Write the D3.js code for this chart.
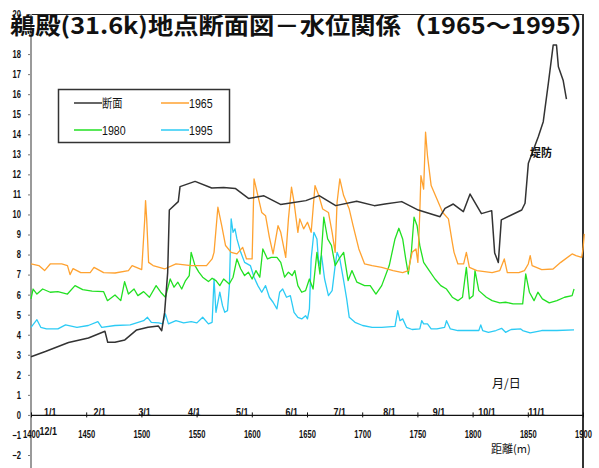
<!DOCTYPE html>
<html lang="ja">
<head>
<meta charset="utf-8">
<title>鵜殿(31.6k)地点断面図－水位関係</title>
<script src="https://cdn.jsdelivr.net/npm/d3@7"></script>
<style>
  body { margin: 0; background: #fff; }
  svg { display: block; }
  .tick text, .num { font-family: "Liberation Sans", Arial, sans-serif; font-weight: bold; fill: #111; }
  .tick text { font-size: 10.5px; }
  .jp { font-family: "Noto Sans CJK JP", sans-serif; fill: #111; }
</style>
</head>
<body>
<div id="chart"></div>
<script>
// 断面 (distance m, elevation)
var section = [[1400,2.9],[1413,3.16],[1434,3.61],[1452,3.84],[1467,4.17],[1469.5,3.62],[1476,3.62],[1485,3.74],
  [1495.7,4.24],[1506,4.37],[1515.3,4.44],[1518.4,4.2],[1521,5.1],[1523.8,7.1],[1525.3,10.22],[1533.4,10.64],
  [1535,11.39],[1548.6,11.65],[1563.7,11.32],[1574.5,11.35],[1585,11.3],[1597,10.8],[1611,10.93],[1626,10.5],
  [1635,10.57],[1649,10.69],[1661,10.94],[1676,10.44],[1695,10.66],[1711,10.44],[1720.6,10.52],[1735.8,10.64],
  [1750.8,10.22],[1770.5,9.89],[1775,10.3],[1782.5,10.52],[1791.6,10.14],[1797.7,11.02],[1808,10.04],[1817.3,10.19],
  [1820,8.08],[1823.3,7.6],[1826,9.73],[1844.5,10.22],[1847.5,10.56],[1850.5,12.55],[1859.5,13.88],[1864,14.63],
  [1868.6,16.54],[1873,18.45],[1876,18.45],[1877.7,17.37],[1882,16.7],[1885,15.75]];

// water level (day from 1/1, level)
var wl1965 = [[-12,7.53],[-7.1,7.45],[-3.5,7.2],[0,7.53],[7.2,7.53],[10.8,7.45],[12.4,7.0],[14.3,7.3],[19.1,7.1],
  [25,7.1],[27.4,7.36],[33.4,7.1],[40.5,7.08],[48.9,7.2],[51.2,7.45],[57.2,7.25],[59.1,9.78],[59.6,10.69],[60.3,9.78],
  [61.5,7.61],[64.3,7.45],[71.5,7.28],[78.6,7.53],[88.1,7.45],[97.7,7.45],[101.2,7.78],[102.4,8.11],[104.8,10.36],
  [107.2,9.44],[109.6,8.45],[113.1,8.11],[116.7,8.03],[120.3,8.36],[122.7,7.78],[126.2,7.78],[127.4,11.77],
  [129.8,10.94],[132.2,10.1],[134.6,9.94],[137,8.86],[139.3,8.03],[142.4,9.44],[144.1,9.11],[147.2,7.86],[148.9,9.78],
  [150.8,11.36],[152.4,10.61],[154.8,9.11],[156,9.78],[158.4,9.28],[160.8,9.61],[163.1,9.11],[165.5,11.44],
  [167.9,10.94],[170.3,10.27],[173.9,10.1],[176.2,9.11],[178.1,8.11],[179.3,10.61],[181,11.77],[183.4,10.94],
  [186.9,10.27],[189.3,9.44],[192.9,8.28],[196.5,7.53],[201.2,7.45],[207.2,7.36],[214.3,7.2],[220.3,7.1],[223.8,7.2],
  [226.2,8.11],[228.6,8.28],[229.8,7.61],[231,10.1],[231.7,11.94],[233.4,11.27],[234.6,14.1],[235.8,12.93],
  [238.1,11.44],[241.7,10.77],[245.3,10.1],[248.9,9.78],[251.3,8.61],[252.4,8.11],[254.8,7.53],[258.4,7.53],
  [260.1,8.11],[262,7.36],[266.7,7.2],[276.2,7.1],[281,7.2],[283.8,7.78],[285.7,7.1],[292.9,7.1],[296.4,7.2],
  [298.8,7.53],[300,7.95],[301.2,7.45],[307.2,7.25],[314.3,7.28],[319.1,7.61],[326.2,8.03],[328.6,7.95],[332.2,7.86],
  [333,8.28],[333.8,9.03]];

var wl1980 = [[-12,5.79],[-10.7,6.28],[-8.3,6.03],[-4.7,6.28],[0,6.12],[4.8,6.15],[10.8,6.03],[15.5,6.45],[20.3,6.25],
  [26.2,6.18],[33.4,6.15],[35.8,5.7],[40.5,5.98],[44.1,5.7],[46.5,6.65],[48.9,6.03],[52.4,6.28],[54.8,5.95],[58.4,6.15],
  [62,5.87],[66.2,6.45],[69.1,6.12],[72,5.87],[75,6.78],[77.4,6.37],[79.8,6.62],[82.2,6.28],[84.6,6.7],[86.9,6.95],
  [88.1,8.11],[90.5,7.45],[92.9,7.12],[95.3,6.87],[98.9,6.65],[101.2,6.82],[103.6,6.7],[106,6.45],[108.4,6.78],
  [111.9,6.53],[114.3,6.87],[116.7,7.78],[119.1,7.28],[121.5,6.95],[123.9,7.12],[126.2,6.78],[128.6,7.2],[131,6.87],
  [132.9,8.28],[135.8,7.78],[138.2,7.86],[141.7,7.86],[144.1,7.61],[146.5,6.87],[148.9,7.12],[151.2,6.95],[152.9,7.2],
  [154.8,6.45],[157.2,6.12],[159.6,6.2],[162,6.78],[164.3,6.28],[166.7,8.11],[168.6,7.03],[171,9.86],[173.4,8.78],
  [175.8,8.45],[178.1,7.45],[180.5,7.78],[183.4,8.11],[186.2,6.7],[188.6,7.2],[191.7,6.62],[196.5,6.45],[200,6.45],
  [203.6,6.03],[207.2,6.45],[211.9,7.45],[215.5,8.78],[217.9,9.31],[220.3,8.78],[222.2,7.78],[223.8,7.03],[225.7,8.11],
  [227.4,9.86],[229.3,9.44],[231,8.45],[233.4,7.61],[236.9,7.2],[240.5,6.78],[244.1,6.45],[247.7,6.28],[251.3,5.87],
  [254.8,5.7],[257.7,5.87],[260.1,7.36],[262,5.79],[264.3,5.95],[265.5,7.2],[267.9,6.2],[272.6,5.87],[276.2,5.7],
  [281,5.59],[284.6,5.62],[289.3,5.54],[295.3,5.54],[297.2,7.03],[299.5,6.12],[302.4,5.7],[304.8,6.12],[307.6,5.79],
  [311.9,5.59],[316.7,5.7],[321.5,5.87],[326.2,5.95],[327.4,6.28]];

var wl1995 = [[-12,4.37],[-8.3,4.75],[-5.9,4.37],[-2.3,4.29],[4.8,4.29],[9.6,4.49],[16.7,4.37],[23.8,4.46],[29.8,4.65],
  [32.2,4.37],[40.5,4.46],[50,4.49],[58.4,4.7],[60.8,4.87],[63.2,4.62],[67.9,4.59],[70.3,4.54],[72,5.04],[73.9,4.54],
  [78.6,4.7],[83.4,4.59],[88.1,4.65],[91.7,4.59],[95.3,4.87],[98.9,4.54],[101.2,4.62],[102.4,6.78],[103.6,5.12],
  [106,6.12],[107.7,5.45],[109.1,5.12],[110.8,5.2],[112,6.45],[113.1,9.78],[114.3,9.11],[115.5,9.28],[116.7,8.78],
  [119.1,8.11],[121.5,7.61],[125.1,7.45],[127.4,6.87],[129.8,6.45],[132.2,6.12],[134.6,6.45],[137,5.87],[139.3,5.62],
  [141.7,5.29],[143.4,6.12],[145.3,6.28],[147.7,5.87],[150.1,5.95],[152.4,5.12],[154.8,4.87],[157.2,4.79],[159.6,4.95],
  [160.8,4.79],[162,5.29],[163.1,7.78],[164.8,9.11],[166.7,8.78],[167.9,7.45],[169.6,7.95],[171.5,6.78],[173.9,5.95],
  [176.2,6.2],[178.1,7.45],[179.3,8.11],[181,7.78],[183.4,6.7],[185.3,5.79],[186.9,4.87],[190.5,4.62],[195.3,4.46],
  [201.2,4.37],[207.2,4.37],[215.5,4.42],[217.2,5.2],[218.6,4.7],[220.3,4.79],[222.7,4.37],[226.2,4.26],[231,4.29],
  [232.2,4.7],[233.4,4.54],[235.8,4.54],[238.1,4.29],[241.7,4.29],[246.5,4.37],[247.7,4.7],[250.1,4.29],[254.8,4.21],
  [262,4.21],[267.9,4.21],[269.1,4.49],[270.3,4.21],[273.9,4.12],[278.6,4.21],[282.1,4.32],[284.6,4.12],[288.1,4.26],
  [294.1,4.29],[295.3,4.21],[300,4.09],[307.2,4.21],[316.7,4.21],[327.4,4.24]];

var monthDays = [0, 31, 59, 90, 120, 151, 181, 212, 243, 273, 304];
var monthLabels = ["1/1", "2/1", "3/1", "4/1", "5/1", "6/1", "7/1", "8/1", "9/1", "10/1", "11/1"];
var distTicks = d3.range(1400, 1901, 50);
var levelTicks = d3.range(-2, 21, 1);

var W = 599, H = 468;
var plotL = 31, plotR = 583, plotT = 14, plotB = 455;

var svg = d3.select("#chart").append("svg").attr("width", W).attr("height", H);

var x = d3.scaleLinear().domain([1400, 1900]).range([plotL, plotR]);
var t = d3.scaleLinear().domain([-12, 333]).range([plotL, plotR]);
var y = d3.scaleLinear().domain([-2, 20]).range([plotB, plotT]);

// frame
svg.append("line").attr("x1", plotL).attr("x2", plotR).attr("y1", plotT + 0.5).attr("y2", plotT + 0.5)
  .attr("stroke", "#222").attr("stroke-width", 1);
svg.append("line").attr("x1", plotR).attr("x2", plotR).attr("y1", plotT).attr("y2", H)
  .attr("stroke", "#333").attr("stroke-width", 2);

// y axis
var gy = svg.append("g").attr("transform", "translate(" + plotL + ",0)")
  .call(d3.axisLeft(y).tickValues(levelTicks).tickSize(3).tickPadding(11).tickFormat(d3.format("d")));
gy.select(".domain").remove();
gy.selectAll(".tick line").attr("stroke", "#777");
gy.append("line").attr("y1", plotT).attr("y2", H).attr("stroke", "#9a9a9a").attr("stroke-width", 2);
gy.selectAll(".tick text")
  .attr("transform", "scale(0.72,1)")
  .text(function (d) { return d < 0 ? "\u2212" + Math.abs(d) : d; });

// x axis (distance) on level 0
var gx = svg.append("g").attr("transform", "translate(0," + y(0) + ")")
  .call(d3.axisBottom(x).tickValues(distTicks).tickSize(0).tickPadding(16).tickFormat(d3.format("d")));
gx.select(".domain").attr("stroke", "#111").attr("stroke-width", 1.2);
gx.selectAll(".tick text").attr("transform", "scale(0.72,1)");
gx.selectAll(".tick").append("line").attr("y1", -2.5).attr("y2", 2.5).attr("stroke", "#111");

// month labels
var gm = svg.append("g");
gm.selectAll("text").data(monthDays).enter().append("text")
  .attr("class", "num")
  .attr("transform", function (d) { return "translate(" + t(d) + "," + (y(0) + 1) + ") scale(0.85,1)"; })
  .attr("text-anchor", "middle")
  .style("font-size", "10.5px")
  .text(function (d, i) { return monthLabels[i]; });
gm.append("text").attr("class", "num")
  .attr("transform", "translate(" + (t(0) - 2) + "," + (y(0) + 20) + ") scale(0.85,1)")
  .attr("text-anchor", "middle")
  .style("font-size", "10.5px")
  .text("12/1");

// series
var lineD = d3.line().x(function (d) { return x(d[0]); }).y(function (d) { return y(d[1]); });
var lineT = d3.line().x(function (d) { return t(d[0]); }).y(function (d) { return y(d[1]); });

var series = [
  { data: wl1995, color: "#2ccbf5", gen: lineT },
  { data: wl1980, color: "#22e022", gen: lineT },
  { data: wl1965, color: "#ffa230", gen: lineT },
  { data: section, color: "#333333", gen: lineD }
];
svg.append("g").selectAll("path").data(series).enter().append("path")
  .attr("fill", "none")
  .attr("stroke", function (s) { return s.color; })
  .attr("stroke-width", function (s) { return s.data === section ? 1.5 : 1.3; })
  .attr("stroke-linejoin", "round")
  .attr("d", function (s) { return s.gen(s.data); });

// annotations
svg.append("text").attr("class", "jp").attr("x", 541).attr("y", 157).attr("text-anchor", "middle")
  .style("font-size", "11px").style("font-weight", "bold").text("堤防");
svg.append("text").attr("class", "jp").attr("x", 492).attr("y", 388)
  .style("font-size", "12px").text("月/日");
svg.append("text").attr("class", "jp").attr("x", 491).attr("y", 453)
  .style("font-size", "11px").text("距離(m)");

// legend
var lg = svg.append("g");
lg.append("rect").attr("x", 58.5).attr("y", 89.5).attr("width", 171).attr("height", 53)
  .attr("fill", "#fff").attr("stroke", "#333").attr("stroke-width", 1.5);
var legendItems = [
  { label: "断面", color: "#333333", lx: 74, ly: 103 },
  { label: "1965", color: "#ffa230", lx: 161, ly: 103 },
  { label: "1980", color: "#22e022", lx: 74, ly: 130 },
  { label: "1995", color: "#2ccbf5", lx: 161, ly: 130 }
];
var li = lg.selectAll("g.item").data(legendItems).enter().append("g").attr("class", "item");
li.append("line").attr("x1", function (d) { return d.lx; }).attr("x2", function (d) { return d.lx + 28; })
  .attr("y1", function (d) { return d.ly; }).attr("y2", function (d) { return d.ly; })
  .attr("stroke", function (d) { return d.color; }).attr("stroke-width", 1.5);
li.append("text")
  .attr("transform", function (d) { return "translate(" + (d.lx + 28) + "," + (d.ly + 4.5) + ") scale(0.85,1)"; })
  .style("font-family", function (d) { return d.label === "断面" ? "'Noto Sans CJK JP', sans-serif" : "'Liberation Sans', Arial, sans-serif"; })
  .style("font-size", function (d) { return d.label === "断面" ? "12px" : "12.5px"; })
  .style("fill", "#111")
  .text(function (d) { return d.label; });

// title
svg.append("rect").attr("x", 0).attr("y", 16).attr("width", 29).attr("height", 24).attr("fill", "#fff");
svg.append("text").attr("class", "jp").attr("x", 10).attr("y", 34)
  .attr("textLength", 586).attr("lengthAdjust", "spacingAndGlyphs")
  .style("font-size", "23px").style("font-weight", "bold")
  .text("鵜殿(31.6k)地点断面図－水位関係（1965～1995）");
</script>
</body>
</html>
